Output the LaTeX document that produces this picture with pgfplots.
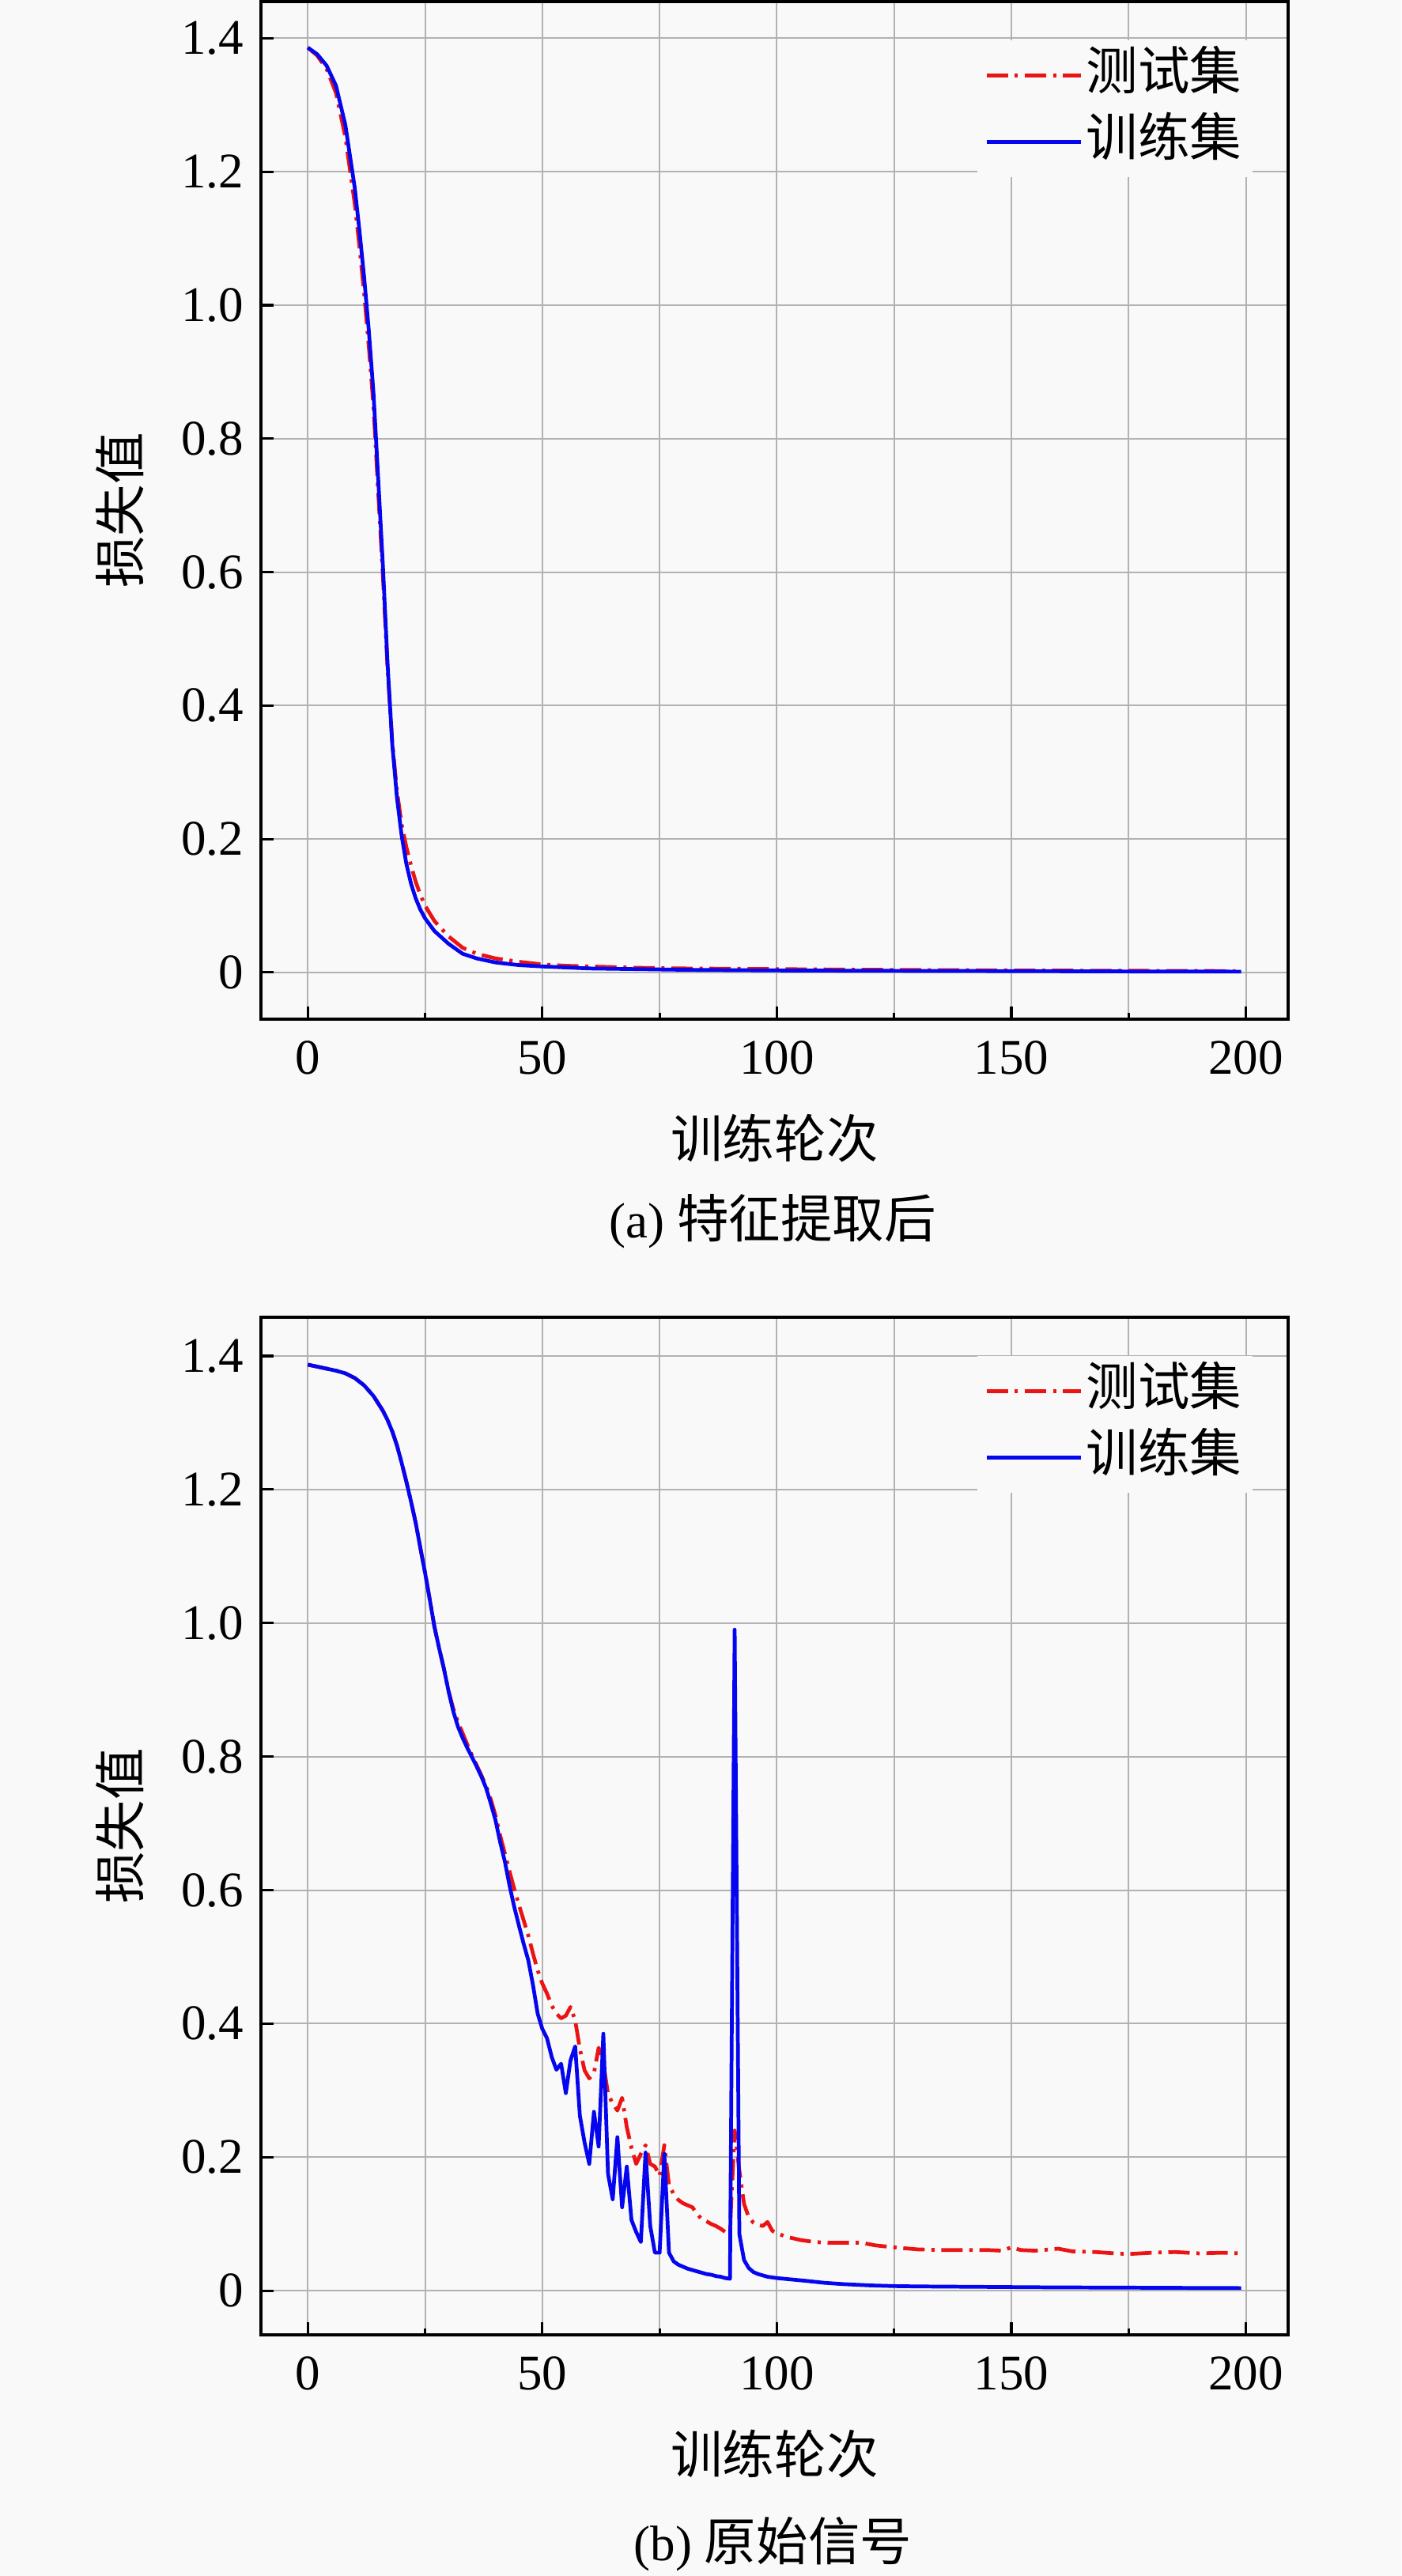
\documentclass[border=0pt]{standalone}
\usepackage{fontspec}
\setmainfont{Liberation Serif}
\newfontfamily\cjk[Scale=1.04]{Noto Sans CJK SC}
\usepackage{pgfplots}
\pgfplotsset{compat=1.18}
\definecolor{bg}{RGB}{249,249,249}
\definecolor{gridc}{RGB}{178,178,178}
\definecolor{trainblue}{RGB}{5,5,240}
\definecolor{testred}{RGB}{235,20,20}

\pgfplotstableread{
x y
0 1.386
2 1.374
4 1.354
6 1.318
8 1.252
10 1.152
11 1.088
12 1.018
13 0.938
14 0.848
15 0.720
16 0.595
17 0.455
18 0.345
19 0.272
20 0.222
21 0.188
22 0.160
23 0.136
24 0.116
25 0.100
27 0.077
30 0.054
33 0.037
36 0.028
40 0.021
45 0.016
50 0.012
55 0.010
60 0.009
70 0.007
80 0.006
100 0.005
120 0.004
150 0.003
175 0.0025
199 0.002
}\testA

\pgfplotstableread{
x y
0 1.386
2 1.376
4 1.359
6 1.329
8 1.270
10 1.176
11 1.112
12 1.042
13 0.962
14 0.868
15 0.740
16 0.610
17 0.462
18 0.342
19 0.262
20 0.205
21 0.163
22 0.133
23 0.111
24 0.094
25 0.081
27 0.062
30 0.043
33 0.028
36 0.021
40 0.015
45 0.011
50 0.009
60 0.006
70 0.005
80 0.004
100 0.003
120 0.0025
150 0.002
175 0.0015
199 0.0012
}\trainA

\pgfplotstableread{
x y
0 1.387
2 1.384
4 1.381
6 1.378
8 1.374
10 1.367
12 1.356
14 1.340
16 1.318
17 1.304
18 1.287
19 1.266
20 1.240
21 1.212
22 1.182
23 1.150
24 1.112
25 1.075
26 1.035
27 0.994
28 0.962
29 0.932
30 0.898
31 0.872
32 0.852
33 0.835
34 0.818
35 0.802
36 0.787
37 0.772
38 0.756
39 0.736
40 0.712
41 0.682
42 0.655
43 0.628
44 0.602
45 0.578
46 0.555
47 0.532
48 0.505
49 0.480
50 0.460
51 0.445
52 0.427
53 0.415
54 0.408
55 0.412
56 0.425
57 0.405
58 0.362
59 0.330
60 0.318
61 0.326
62 0.364
63 0.340
64 0.295
65 0.280
66 0.270
67 0.289
68 0.245
69 0.214
70 0.190
71 0.205
72 0.218
73 0.190
74 0.186
75 0.172
76 0.218
77 0.158
78 0.145
79 0.136
80 0.131
81 0.128
82 0.125
83 0.115
84 0.107
85 0.104
86 0.100
87 0.097
88 0.093
89 0.088
90 0.092
91 0.240
92 0.180
93 0.130
94 0.110
95 0.102
96 0.099
97 0.097
98 0.103
99 0.090
100 0.086
102 0.081
105 0.076
108 0.073
111 0.072
115 0.072
118 0.072
121 0.068
125 0.065
130 0.062
135 0.061
140 0.061
145 0.061
148 0.060
150 0.065
152 0.061
155 0.060
160 0.063
163 0.059
168 0.058
172 0.056
175 0.055
180 0.057
185 0.058
190 0.056
195 0.057
199 0.056
}\testB

\pgfplotstableread{
x y
0 1.387
2 1.384
4 1.381
6 1.378
8 1.374
10 1.367
12 1.356
14 1.340
16 1.318
17 1.304
18 1.287
19 1.266
20 1.240
21 1.212
22 1.182
23 1.150
24 1.112
25 1.075
26 1.035
27 0.994
28 0.962
29 0.932
30 0.898
31 0.868
32 0.845
33 0.828
34 0.813
35 0.799
36 0.785
37 0.770
38 0.753
39 0.730
40 0.705
41 0.672
42 0.643
43 0.607
44 0.575
45 0.547
46 0.520
47 0.495
48 0.458
49 0.415
50 0.392
51 0.378
52 0.350
53 0.331
54 0.340
55 0.296
56 0.345
57 0.366
58 0.262
59 0.222
60 0.190
61 0.268
62 0.216
63 0.385
64 0.175
65 0.137
66 0.230
67 0.125
68 0.186
69 0.106
70 0.088
71 0.073
72 0.207
73 0.097
74 0.057
75 0.057
76 0.205
77 0.057
78 0.044
79 0.039
80 0.036
81 0.033
82 0.031
83 0.029
84 0.027
85 0.025
86 0.024
87 0.022
88 0.021
89 0.019
90 0.018
91 0.990
92 0.085
93 0.046
94 0.034
95 0.028
96 0.025
97 0.023
98 0.021
100 0.019
103 0.017
106 0.015
110 0.012
114 0.010
120 0.008
125 0.007
130 0.0065
140 0.006
150 0.0055
160 0.005
170 0.0048
180 0.0045
190 0.0042
199 0.004
}\trainB

\pgfplotsset{
  lossaxis/.style={
    scale only axis, width=288.67pt, height=286pt,
    xmin=-10, xmax=209,
    xtick={0,50,100,150,200}, minor xtick={25,75,125,175},
    ytick={0,0.2,0.4,0.6,0.8,1.0,1.2,1.4},
    yticklabels={0,0.2,0.4,0.6,0.8,1.0,1.2,1.4},
    grid=both,
    major grid style={gridc, line width=0.45pt},
    minor grid style={gridc, line width=0.45pt},
    tick align=inside, xtick pos=bottom, ytick pos=left,
    major tick length=3.6pt, minor tick length=1.8pt,
    every tick/.style={black, line width=0.7pt},
    axis line style={black, line width=0.8pt},
    axis background/.style={fill=bg},
    /pgf/number format/assume math mode=true,
    ticklabel style={font=\fontsize{14}{16}\selectfont},
    x tick label style={anchor=center, yshift=-10.9pt},
    y tick label style={anchor=east, xshift=-1.3pt},
    label style={font=\fontsize{14}{16}\selectfont\cjk},
    xlabel style={at={(axis description cs:0.5,-0.117)}, anchor=center},
    ylabel style={at={(axis description cs:-0.137,0.5)}, anchor=center},
    xlabel={训练轮次}, ylabel={损失值},
    legend style={at={(1,1)}, anchor=north east, xshift=-9.9pt, yshift=-10.6pt,
      draw=none, fill=bg, font=\fontsize{14}{16}\selectfont\cjk,
      cells={anchor=west}, inner xsep=2pt, inner ysep=2.5pt,
      nodes={inner sep=1pt, text height=10.5pt, text depth=2.5pt}, row sep=3.6pt},
    legend image code/.code={\draw[#1] (0pt,0pt) -- (26.4pt,0pt);},
    testline/.style={testred, line width=1.05pt, line join=round, dash pattern=on 6pt off 1.9pt on 0.9pt off 1.9pt},
    trainline/.style={trainblue, line width=1.05pt, line join=round},
  }
}

\begin{document}
\begin{tikzpicture}
\fill[bg] (0,0) rectangle (393.78pt,724pt);
\useasboundingbox (0,0) rectangle (393.78pt,724pt);

\begin{axis}[lossaxis, at={(73.33pt,723.56pt)}, anchor=north west, ymin=-0.07, ymax=1.455]
\addplot[testline] table[x=x,y=y] {\testA};
\addlegendentry{测试集}
\addplot[trainline] table[x=x,y=y] {\trainA};
\addlegendentry{训练集}
\end{axis}
\node[font=\fontsize{14}{16}\selectfont, inner sep=0pt] at (217.2pt,380.7pt) {(a) {\cjk 特征提取后}};

\begin{axis}[lossaxis, at={(73.33pt,353.78pt)}, anchor=north west, ymin=-0.066, ymax=1.458]
\addplot[testline] table[x=x,y=y] {\testB};
\addlegendentry{测试集}
\addplot[trainline] table[x=x,y=y] {\trainB};
\addlegendentry{训练集}
\end{axis}
\node[font=\fontsize{14}{16}\selectfont, inner sep=0pt] at (217.2pt,8.9pt) {(b) {\cjk 原始信号}};
\end{tikzpicture}
\end{document}
